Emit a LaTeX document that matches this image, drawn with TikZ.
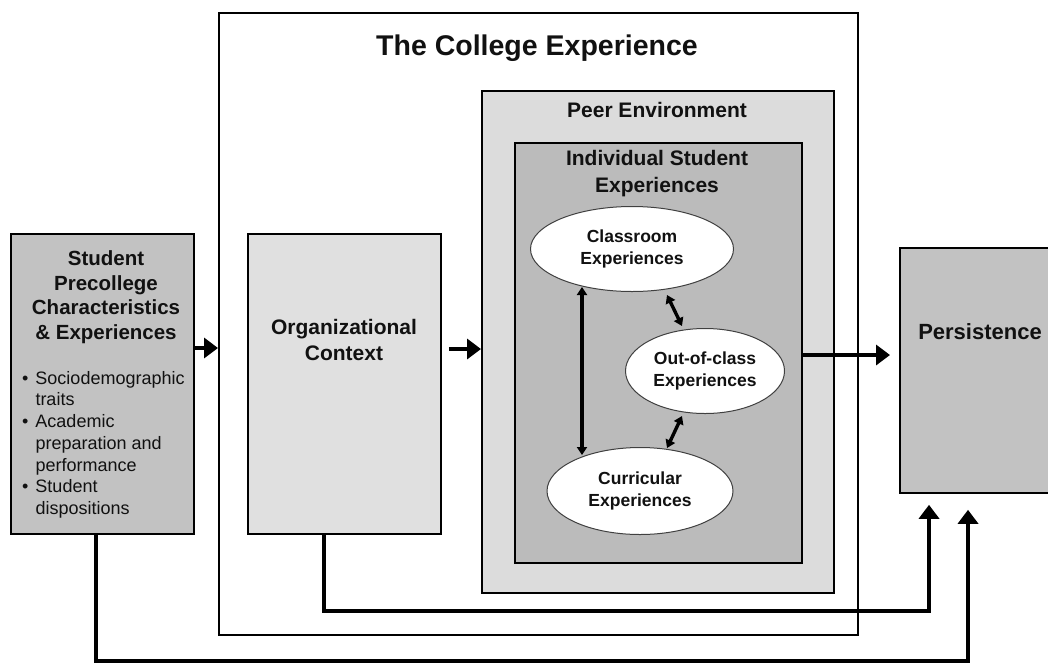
\documentclass[tikz,border=0pt]{standalone}
\usepackage{fontspec}
\setmainfont{Liberation Sans}
\usetikzlibrary{arrows.meta,shapes.geometric,calc}
\definecolor{boxgray}{HTML}{C2C2C2}
\definecolor{innergray}{HTML}{BBBBBB}
\definecolor{peergray}{HTML}{DCDCDC}
\definecolor{orggray}{HTML}{E0E0E0}
\definecolor{ink}{HTML}{111111}
\begin{document}
\begin{tikzpicture}[x=1pt,y=-1pt,
  box/.style={draw=black,line width=1.8pt,rectangle,inner sep=0pt,anchor=north west},
  ell/.style={draw=black!75,line width=1pt,ellipse,fill=white,inner sep=0pt,
    font=\bfseries\fontsize{17.5}{22}\selectfont,align=center,text=ink},
  lbl/.style={text=ink,align=center,inner sep=0pt},
  bigarrow/.style={line width=4.5pt,-{Triangle[length=14pt,width=20pt]}},
  dbl/.style={line width=3.4pt,{Triangle[length=8pt,width=10pt]}-{Triangle[length=8pt,width=10pt]}},
]
\useasboundingbox (0,0) rectangle (1048,662);
\clip (0,0) rectangle (1048,662);
\fill[white] (0,0) rectangle (1048,662);

% boxes
\node[box,fill=white,minimum width=639pt,minimum height=622pt] (college) at (218,12) {};
\node[box,fill=peergray,minimum width=352pt,minimum height=502pt] (peer) at (481,90) {};
\node[box,fill=innergray,minimum width=287pt,minimum height=420pt] (inner) at (514,142) {};
\node[box,fill=boxgray,minimum width=183pt,minimum height=300pt] (left) at (10,233) {};
\node[box,fill=orggray,minimum width=193pt,minimum height=300pt] (org) at (247,233) {};
\node[box,fill=boxgray,minimum width=165pt,minimum height=245pt] (pers) at (899,247) {};

% titles
\node[lbl,font=\bfseries\fontsize{28.5}{34}\selectfont] (tcol) at (537,48) {The College Experience};
\node[lbl,font=\bfseries\fontsize{21}{26}\selectfont] (tpeer) at (657,110) {Peer Environment};
\node[lbl,font=\bfseries\fontsize{21}{27}\selectfont] (tind) at (657,174) {Individual Student\\Experiences};
\node[lbl,font=\bfseries\fontsize{21}{26}\selectfont] (torg) at (344,340) {Organizational\\Context};
\node[lbl,font=\bfseries\fontsize{22}{26}\selectfont] (tpers) at (980,332) {Persistence};
\node[lbl,font=\bfseries\fontsize{20.5}{24.5}\selectfont] (tleft) at (106,297) {Student\\Precollege\\Characteristics\\\& Experiences};
\node[lbl,anchor=west,align=left,font=\fontsize{18}{21.7}\selectfont] (bul) at (22,445)
 {\begin{tabular}{@{}l@{\hspace{7pt}}l@{}}
  \textbullet & Sociodemographic\\
              & traits\\
  \textbullet & Academic\\
              & preparation and\\
              & performance\\
  \textbullet & Student\\
              & dispositions
  \end{tabular}};

% ellipses
\node[ell,minimum width=203pt,minimum height=85pt] (cls) at (632,249) {Classroom\\Experiences};
\node[ell,minimum width=159pt,minimum height=85pt] (out) at (705,371) {Out-of-class\\Experiences};
\node[ell,minimum width=186pt,minimum height=87pt] (cur) at (640,491) {Curricular\\Experiences};

% arrows between ellipses
\draw[dbl] ($(cls.center)+(-50,38)$) -- ($(cur.center)+(-58,-36)$);
\draw[dbl] ($(cls.center)+(35,46)$) -- ($(out.center)+(-23,-45)$);
\draw[dbl] ($(out.center)+(-23,45)$) -- ($(cur.center)+(27,-43)$);

% main arrows
\draw[bigarrow] ($(left.north east)+(0,115)$) -- ($(college.north west)+(0,336)$);
\draw[bigarrow] ($(org.north east)+(7,116)$) -- ($(peer.north west)+(0,259)$);
\draw[bigarrow] ($(inner.north east)+(0,213)$) -- ($(pers.north west)+(-9,108)$);
\draw[bigarrow] ($(org.south)+(-20.5,0)$) -- ++(0,76) -| ($(pers.south west)+(30,11)$);
\draw[bigarrow] ($(left.south)+(-6.5,0)$) -- ++(0,126) -| ($(pers.south west)+(69,16)$);
\end{tikzpicture}
\end{document}
